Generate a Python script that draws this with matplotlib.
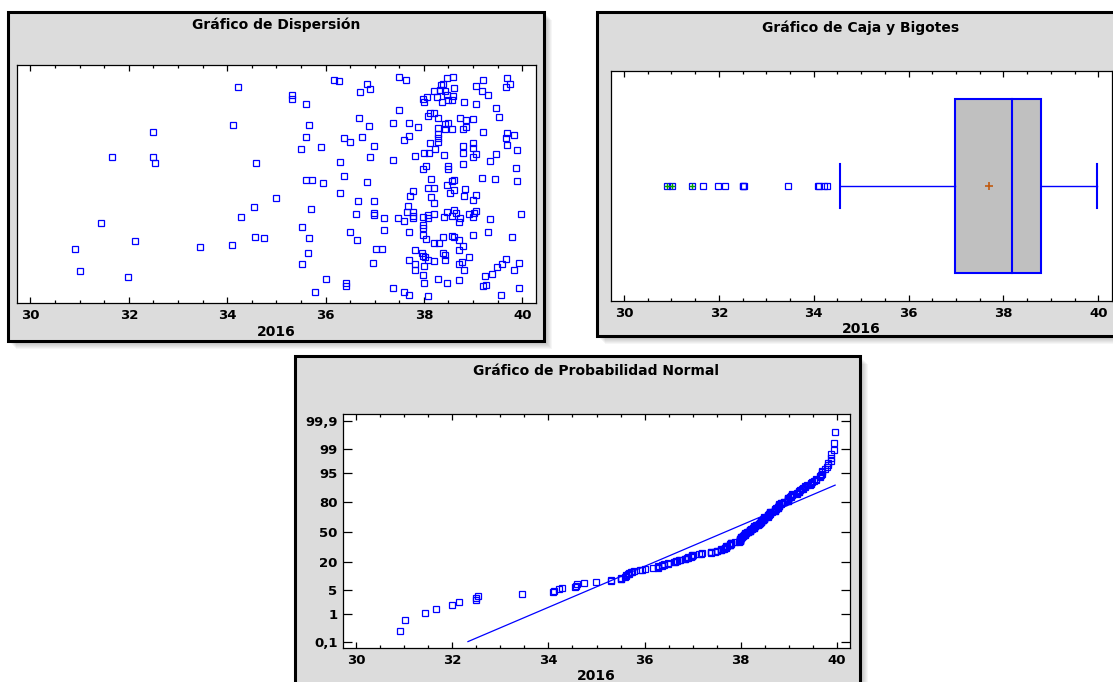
import numpy as np
import matplotlib
matplotlib.use("Agg")
import matplotlib.pyplot as plt
from matplotlib.patches import Rectangle
from statistics import NormalDist

# Variable "2016", with the vertical jitter
# (0 = bottom of the plot, 1 = top) that the scatter plot uses.
x2016 = [
    30.90, 31.01, 31.43, 31.66, 31.99, 32.13, 32.50, 32.50, 32.53, 33.45,
    34.10, 34.12, 34.22, 34.28, 34.55, 34.57, 34.59, 34.75, 34.99, 35.31,
    35.31,
    36.18, 36.28, 37.50, 37.64, 38.48, 38.59, 39.21, 39.69, 36.85, 38.38,
    38.35, 39.07, 39.75, 39.66, 36.91, 38.62, 38.20, 38.32, 38.42, 39.18,
    36.71, 38.47, 38.60, 39.30, 38.06, 37.99, 38.27, 38.49, 38.57, 35.61,
    38.01, 38.37, 38.81, 39.07, 37.50, 39.46, 38.13, 38.21, 38.09, 36.68,
    38.28, 38.73, 38.85, 38.99, 39.52, 35.67, 36.88, 37.38, 37.70, 37.89,
    38.42, 38.49, 38.28, 38.42, 38.57, 38.79, 38.85, 39.21, 35.61, 36.37,
    36.74, 37.70, 38.28, 39.69, 39.83, 39.66, 36.49, 37.60, 38.12, 38.29,
    38.28, 38.99,
    35.51, 35.90, 36.99, 38.23, 38.80, 38.99, 39.69, 39.89, 38.01, 38.10,
    38.40, 38.80, 39.05, 38.99, 39.46, 37.81, 36.91, 37.38, 36.29, 39.35,
    38.49, 38.49, 38.05, 37.99, 38.79, 39.88, 35.60, 35.73, 36.37, 35.95,
    36.85, 38.15, 38.58, 38.62, 39.18, 39.44, 39.89, 38.47, 38.08, 38.20,
    38.62, 38.84, 37.78, 36.29, 38.54, 37.72, 38.15, 38.81, 39.07, 38.99,
    36.66, 36.99, 38.20, 37.67, 35.71, 37.78, 37.66, 38.62, 39.06, 39.02,
    38.91, 38.47, 38.66, 36.62, 36.99, 36.99, 37.18, 37.47, 37.60, 37.78,
    37.78, 37.98, 38.08, 38.20, 38.09, 38.40, 38.58, 38.73, 38.72, 38.99,
    39.35, 39.97,
    35.52, 37.98, 37.99, 36.49, 37.19, 37.70, 39.30, 35.67, 36.63, 37.99,
    38.04, 38.38, 38.58, 38.62, 38.72, 38.99, 39.80, 38.20, 38.31, 38.79,
    35.65, 37.02, 37.14, 37.81, 37.96, 37.98, 38.02, 38.42, 38.38, 38.72,
    38.91, 35.52, 36.96, 37.70, 37.81, 38.09, 38.20, 38.42, 38.77, 38.72,
    38.01, 39.67, 39.58, 39.49, 39.94, 37.81, 38.81, 39.83, 37.98, 39.38,
    39.24, 36.01, 36.41, 36.41, 38.28, 38.72, 38.01, 38.48, 39.21, 39.27,
    37.38, 39.94, 35.78, 37.59, 37.70, 38.09, 39.57,
]
jitter = [
    .228, .134, .335, .613, .109, .262, .720, .613, .588, .237,
    .245, .749, .906, .360, .402, .279, .588, .274, .440, .875,
    .856,
    .936, .931, .948, .936, .944, .948, .936, .944, .919, .921,
    .916, .910, .919, .906, .898, .902, .891, .895, .891, .891,
    .885, .875, .868, .872, .864, .856, .864, .853, .852, .835,
    .843, .843, .843, .835, .810, .818, .800, .800, .787, .776,
    .776, .776, .768, .772, .783, .749, .745, .758, .758, .741,
    .753, .758, .734, .730, .730, .730, .738, .720, .696, .692,
    .696, .703, .710, .716, .707, .695, .676, .686, .674, .678,
    .692, .674,
    .647, .655, .660, .647, .660, .651, .664, .643, .630, .630,
    .622, .630, .626, .613, .626, .618, .613, .601, .592, .597,
    .576, .562, .576, .562, .584, .567, .517, .517, .534, .503,
    .508, .520, .513, .518, .524, .520, .511, .494, .482, .482,
    .474, .478, .469, .461, .461, .448, .444, .448, .452, .432,
    .427, .427, .419, .406, .394, .381, .381, .389, .385, .377,
    .373, .381, .377, .373, .377, .368, .356, .356, .343, .364,
    .356, .360, .368, .373, .356, .360, .367, .356, .339, .360,
    .352, .373,
    .321, .316, .328, .300, .305, .297, .297, .274, .266, .287,
    .270, .279, .283, .276, .266, .287, .279, .253, .253, .241,
    .211, .228, .228, .224, .210, .196, .193, .203, .211, .224,
    .195, .164, .169, .182, .165, .182, .178, .182, .174, .164,
    .155, .186, .165, .151, .169, .140, .140, .140, .116, .122,
    .113, .101, .085, .070, .101, .098, .084, .084, .071, .076,
    .064, .063, .046, .046, .034, .029, .034,
]

# probability levels (percent) and their labels for the normal plot
prob_levels = [0.1, 1, 5, 20, 50, 80, 95, 99, 99.9]
prob_labels = ["0,1", "1", "5", "20", "50", "80", "95", "99", "99,9"]

titles = ["Gráfico de Dispersión", "Gráfico de Caja y Bigotes",
          "Gráfico de Probabilidad Normal"]
xlabel = "2016"

BLUE = "#0000ff"
W, H = 1113, 682

plt.rcParams['font.family'] = ['DejaVu Sans']
plt.rcParams['font.weight'] = 'bold'

fig = plt.figure(figsize=(W / 100, H / 100), dpi=100)
fig.patch.set_facecolor('white')


def fx(px):
    return px / W


def fy(py):
    return 1 - py / H


def panel(x0, y0, x1, y1):
    # soft drop shadow, then the grey frame
    for k in range(1, 9):
        fig.patches.append(Rectangle((fx(x0 + k), fy(y1 + k)), (x1 - x0) / W, (y1 - y0) / H,
                                     transform=fig.transFigure, facecolor='black',
                                     alpha=0.035, edgecolor='none', zorder=-3))
    fig.patches.append(Rectangle((fx(x0), fy(y1)), (x1 - x0) / W, (y1 - y0) / H,
                                 transform=fig.transFigure, facecolor='#dcdcdc',
                                 edgecolor='black', lw=2.2, zorder=-2))


def add_ax(x0, y0, x1, y1):
    ax = fig.add_axes([fx(x0), fy(y1), (x1 - x0) / W, (y1 - y0) / H])
    ax.set_facecolor('white')
    for s in ax.spines.values():
        s.set_linewidth(0.9)
    ax.set_xlim(29.72, 40.28)
    ax.set_xticks(np.arange(30, 41, 2))
    ax.set_xticks(np.arange(30, 40.01, 0.5), minor=True)
    ax.tick_params(axis='x', which='both', direction='in', top=True, bottom=True,
                   width=0.9, labelsize=9.5, pad=4.5)
    ax.tick_params(axis='x', which='major', length=4)
    ax.tick_params(axis='x', which='minor', length=2.2)
    return ax


marker = dict(ls='none', marker='s', ms=4.3, mfc='none', mec=BLUE, mew=0.9)

# --- scatter plot
panel(8, 12, 544, 341)
fig.text(fx(276), fy(25), titles[0], ha='center', va='center', fontsize=10, fontweight='bold')
ax1 = add_ax(16.7, 65, 536, 303)
ax1.plot(x2016, jitter, **marker)
ax1.set_ylim(0, 1)
ax1.set_yticks([])
fig.text(fx(276.4), fy(332), xlabel, ha='center', va='center', fontsize=10, fontweight='bold')

# --- box and whisker plot
x = np.array(x2016)
q1, med, q3 = np.percentile(x, [25, 50, 75])
mean = x.mean()
iqr = q3 - q1
inner_lo, inner_hi = q1 - 1.5 * iqr, q3 + 1.5 * iqr
far_lo, far_hi = q1 - 3 * iqr, q3 + 3 * iqr
w_lo = x[x >= inner_lo].min()
w_hi = x[x <= inner_hi].max()
out = x[(x < inner_lo) | (x > inner_hi)]
far = x[(x < far_lo) | (x > far_hi)]

panel(597, 12, 1130, 336)
fig.text(fx(861), fy(28), titles[1], ha='center', va='center', fontsize=10, fontweight='bold')
ax2 = add_ax(610.7, 71, 1111.5, 301)
ax2.set_ylim(-1, 1)
ax2.set_yticks([])
hb = 0.757
ax2.add_patch(Rectangle((q1, -hb), q3 - q1, 2 * hb, facecolor='#c0c0c0',
                        edgecolor=BLUE, lw=1.5, zorder=2))
ax2.plot([med, med], [-hb, hb], color=BLUE, lw=1.5, zorder=3)
ax2.plot([w_lo, q1], [0, 0], color=BLUE, lw=1.0)
ax2.plot([q3, w_hi], [0, 0], color=BLUE, lw=1.0)
for w in (w_lo, w_hi):
    ax2.plot([w, w], [-0.19, 0.19], color=BLUE, lw=1.5)
ax2.plot([mean], [0], ls='none', marker='+', ms=6, mew=1.2, color='#c05a10', zorder=4)
ax2.plot(out, np.zeros(len(out)), **marker)
ax2.plot(far, np.zeros(len(far)), ls='none', marker='+', ms=4.5, mew=1.0, color='#00a000')
fig.text(fx(861), fy(329), xlabel, ha='center', va='center', fontsize=10, fontweight='bold')

# --- normal probability plot
nd = NormalDist()
xs = np.sort(x)
n = len(xs)
pp = (np.arange(1, n + 1) - 0.375) / (n + 0.25)
zq = np.array([nd.inv_cdf(p) for p in pp])
sd = x.std(ddof=1)

panel(295, 356, 860, 700)
fig.text(fx(596), fy(371), titles[2], ha='center', va='center', fontsize=10, fontweight='bold')
ax3 = add_ax(343, 414, 850, 648)
ax3.plot(xs, zq, **marker)
z0 = nd.inv_cdf(0.001)
lx0 = mean + z0 * sd
lx1 = xs.max()
ax3.plot([lx0, lx1], [(lx0 - mean) / sd, (lx1 - mean) / sd], color=BLUE, lw=0.9)
ax3.set_ylim(-3.27, 3.30)
ax3.set_yticks([nd.inv_cdf(p / 100) for p in prob_levels])
ax3.set_yticklabels(prob_labels)
ax3.tick_params(axis='y', direction='in', left=True, right=True, length=6.5,
                width=0.9, labelsize=9.5, pad=4)
fig.text(fx(596.5), fy(676), xlabel, ha='center', va='center', fontsize=10, fontweight='bold')

fig.savefig("out.png", dpi=100)
